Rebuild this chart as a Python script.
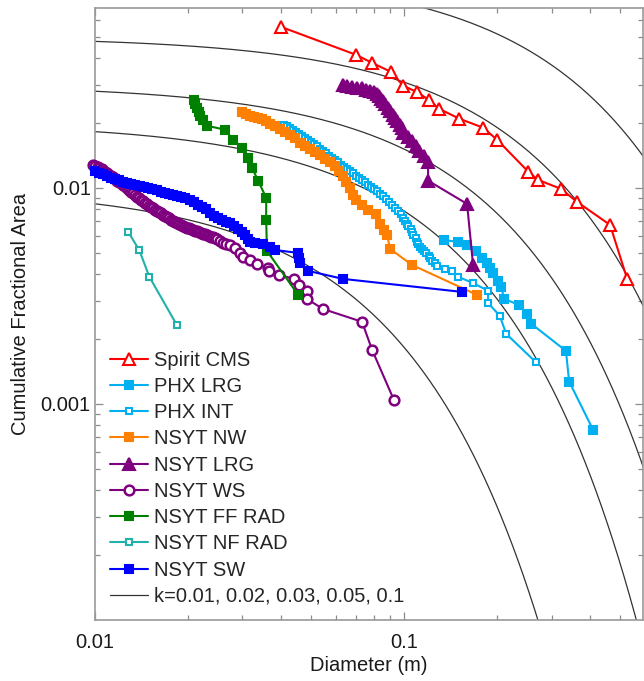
import numpy as np, pandas as pd, matplotlib
matplotlib.use('Agg')
import matplotlib.pyplot as plt, seaborn as sns
from matplotlib.ticker import LogLocator, NullFormatter

# Diameter (m) and cumulative fractional area for each rock-count series
spirit_x = [0.04,0.0699,0.0788,0.0908,0.0993,0.11,0.12,0.13,0.151,0.18,0.2,0.252,0.271,0.322,0.363,0.464,0.527]
spirit_y = [0.0556,0.0413,0.0379,0.0344,0.0297,0.0278,0.0256,0.0232,0.0209,0.019,0.0167,0.0119,0.0109,0.00989,0.00861,0.00674,0.00379]
phx_lrg_x = [0.1347,0.1496,0.160,0.171,0.179,0.186,0.190,0.194,0.201,0.206,0.211,0.236,0.250,0.258,0.334,0.342,0.409]
phx_lrg_y = [0.00574,0.00562,0.00545,0.00511,0.00474,0.0045,0.00426,0.00404,0.00371,0.00348,0.00306,0.00287,0.00261,0.00235,0.00176,0.00127,0.000758]
int_x = [0.0409,0.0418,0.0428,0.0437,0.0447,0.0457,0.0468,0.0478,0.0489,0.0500,0.0511,0.0523,0.0535,0.0547,0.0559,0.0572,0.0585,0.0598,0.0612,0.0625,0.0639,0.0654,0.0669,0.0684,0.0699,0.0715,0.0731,0.0748,0.0765,0.0782,0.0800,0.0818,0.0836,0.0855,0.0874,0.0894,0.0914,0.0935,0.0956,0.0974,0.0993,0.101,0.102,0.103,0.105,0.106,0.107,0.109,0.110,0.111,0.113,0.114,0.116,0.118,0.120,0.121,0.123,0.126,0.128,0.136,0.143,0.150,0.167,0.187,0.187,0.204,0.214,0.267]
int_y = [0.0196,0.0193,0.0190,0.0186,0.0182,0.0178,0.0174,0.0170,0.0167,0.0163,0.0160,0.0156,0.0152,0.0148,0.0145,0.0141,0.0138,0.0135,0.0132,0.0128,0.0125,0.0122,0.0120,0.0117,0.0114,0.0111,0.0109,0.0106,0.0103,0.0101,0.00989,0.00963,0.00938,0.00913,0.00889,0.00861,0.00834,0.00808,0.00783,0.00754,0.00726,0.00703,0.00681,0.00663,0.00646,0.00626,0.00606,0.00584,0.00562,0.00548,0.00533,0.00522,0.00511,0.00497,0.00484,0.00472,0.00459,0.00447,0.00435,0.00422,0.00413,0.00387,0.00363,0.00334,0.00293,0.00256,0.00211,0.00156]
nw_x = [0.0299,0.0308,0.0317,0.0327,0.0337,0.0347,0.0358,0.0368,0.0382,0.0397,0.0412,0.0428,0.0444,0.0461,0.0478,0.0496,0.0515,0.0535,0.0555,0.0576,0.0598,0.0616,0.0635,0.0649,0.0669,0.0684,0.0699,0.0731,0.0765,0.0812,0.0836,0.0862,0.0881,0.0901,0.106,0.172]
nw_y = [0.0225,0.0220,0.0215,0.0213,0.0211,0.0209,0.0204,0.0198,0.0194,0.0188,0.0182,0.0176,0.0170,0.0162,0.0156,0.0152,0.0147,0.0142,0.0136,0.0132,0.0126,0.0120,0.0114,0.0107,0.0100,0.00928,0.0088,0.00834,0.00791,0.00758,0.00681,0.00639,0.00606,0.00522,0.0044,0.0032]
nsyt_lrg_x = [0.0635,0.0654,0.0679,0.0704,0.0731,0.0753,0.0776,0.0800,0.0818,0.0830,0.0843,0.0855,0.0868,0.0888,0.0901,0.0921,0.0935,0.0949,0.0971,0.0985,0.0993,0.1030,0.1061,0.1094,0.1118,0.1161,0.1196,0.1196,0.1599,0.1672]
nsyt_lrg_y = [0.0300,0.0297,0.0293,0.0290,0.0290,0.0284,0.0281,0.0278,0.0272,0.0267,0.0258,0.0253,0.0245,0.0235,0.0227,0.0218,0.0211,0.0204,0.0196,0.0190,0.0180,0.0172,0.0165,0.0157,0.0148,0.0141,0.0132,0.0108,0.00843,0.00440]
ws_x = [0.00985,0.0100,0.0102,0.0103,0.0105,0.0106,0.0108,0.0109,0.0111,0.0113,0.0114,0.0116,0.0118,0.0120,0.0121,0.0123,0.0125,0.0127,0.0129,0.0131,0.0133,0.0135,0.0137,0.0139,0.0141,0.0143,0.0145,0.0147,0.0150,0.0152,0.0154,0.0156,0.0159,0.0161,0.0164,0.0166,0.0168,0.0171,0.0174,0.0176,0.0179,0.0182,0.0184,0.0187,0.0190,0.0193,0.0196,0.0198,0.0201,0.0204,0.0208,0.0211,0.0214,0.0217,0.0220,0.0224,0.0227,0.0230,0.0234,0.0237,0.0241,0.0245,0.0248,0.0254,0.0260,0.0265,0.0273,0.0284,0.0295,0.0301,0.0317,0.0334,0.0363,0.0366,0.0394,0.0441,0.0457,0.0485,0.0485,0.0547,0.0731,0.0788,0.0928]
ws_y = [0.0128,0.0126,0.0125,0.0123,0.0122,0.0120,0.0119,0.0117,0.0115,0.0114,0.0112,0.0110,0.0108,0.0107,0.0105,0.0103,0.0102,0.00997,0.00979,0.0096,0.00943,0.00925,0.00909,0.00894,0.0088,0.00866,0.00852,0.00839,0.00825,0.00814,0.00804,0.00793,0.00783,0.00772,0.00762,0.00751,0.00742,0.00732,0.00722,0.00712,0.00703,0.00694,0.00685,0.00678,0.0067,0.00665,0.0066,0.00654,0.00649,0.00644,0.00639,0.00634,0.00629,0.00624,0.00619,0.00614,0.00609,0.00604,0.00599,0.00594,0.0059,0.00585,0.00581,0.00568,0.00556,0.0055,0.00545,0.00527,0.005,0.00479,0.00464,0.00445,0.00426,0.00413,0.00396,0.00379,0.00356,0.00334,0.00306,0.00275,0.0024,0.00178,0.00104]
ff_x = [0.0209,0.0211,0.0214,0.0217,0.0219,0.0224,0.0230,0.0263,0.0280,0.0299,0.0313,0.0322,0.0337,0.0358,0.0358,0.0360,0.0454]
ff_y = [0.0256,0.0245,0.0235,0.0225,0.0215,0.0206,0.0194,0.0186,0.0167,0.0153,0.0138,0.0124,0.0108,0.0090,0.00711,0.00511,0.0032]
nf_x = [0.0128,0.0139,0.015,0.0184]
nf_y = [0.00626,0.00516,0.00387,0.00232]
sw_x = [0.01,0.0103,0.0106,0.0109,0.0113,0.0116,0.012,0.0123,0.0127,0.0131,0.0135,0.014,0.0144,0.0148,0.0153,0.0159,0.0164,0.0168,0.0174,0.0179,0.0184,0.019,0.0196,0.0203,0.0209,0.0215,0.0222,0.0229,0.0236,0.0243,0.025,0.0258,0.0265,0.0273,0.0282,0.029,0.0299,0.0306,0.0313,0.0317,0.0329,0.035,0.0368,0.0382,0.0454,0.0457,0.0461,0.0489,0.0635,0.154]
sw_y = [0.012,0.0117,0.0116,0.0114,0.0111,0.011,0.0109,0.0107,0.0105,0.0104,0.0103,0.0102,0.0101,0.01,0.00989,0.00979,0.00958,0.00948,0.00938,0.00928,0.00918,0.00909,0.00899,0.0088,0.00861,0.00834,0.00817,0.00799,0.00766,0.00742,0.00726,0.00711,0.00696,0.00689,0.00667,0.00646,0.00626,0.00606,0.00581,0.00562,0.00556,0.0055,0.00533,0.00516,0.005,0.00474,0.0045,0.00413,0.00379,0.0033]

# Golombek-Rapp model rock abundances
k_values = [0.01,0.02,0.03,0.05,0.1]
k_label = 'k=0.01, 0.02, 0.03, 0.05, 0.1'

series = [
 ('Spirit CMS', spirit_x, spirit_y, '#FF0000','^',8,False,1.5),
 ('PHX LRG', phx_lrg_x, phx_lrg_y, '#00B0F0','s',5.5,True,1.5),
 ('PHX INT', int_x, int_y, '#00B0F0','s',5,False,1.5),
 ('NSYT NW', nw_x, nw_y, '#FF8000','s',5.5,True,1.5),
 ('NSYT LRG', nsyt_lrg_x, nsyt_lrg_y, '#7F007F','^',8,True,1.5),
 ('NSYT WS', ws_x, ws_y, '#7F007F','o',7,False,1.8),
 ('NSYT FF RAD', ff_x, ff_y, '#008000','s',5.5,True,1.5),
 ('NSYT NF RAD', nf_x, nf_y, '#20B2AA','s',5,False,1.5),
 ('NSYT SW', sw_x, sw_y, '#0000FF','s',5.5,True,1.5),
]

sns.set_theme(style='ticks')
plt.rcParams['font.family'] = ['Liberation Sans', 'DejaVu Sans']
FS = 14.5

fig = plt.figure(figsize=(6.44,6.81), dpi=100)
ax = fig.add_axes([95/644, 1-620/681, 548/644, 612/681])
for name,x,y,c,m,ms,filled,mew in series:
    sns.lineplot(x=x,y=y,ax=ax,color=c,marker=m,markersize=ms,markeredgecolor=c,
                 markerfacecolor=c if filled else 'white',markeredgewidth=mew,linewidth=1.5,
                 sort=False,estimator=None,errorbar=None,label=name,zorder=3,clip_on=False,legend=False)
D = np.logspace(-2, np.log10(0.6), 400)
for i,k in enumerate(k_values):
    q = 1.79 + 0.152/k
    sns.lineplot(x=D, y=k*np.exp(-q*D), ax=ax, color='#333333', lw=0.9, zorder=1,
                 sort=False, estimator=None, errorbar=None,
                 label=k_label if i==0 else '_nolegend_', legend=False)
ax.set_xscale('log'); ax.set_yscale('log')
ax.set_xlim(0.01,0.593); ax.set_ylim(1e-4,0.068)
ax.set_xticks([0.01,0.1],['0.01','0.1'])
ax.set_yticks([0.001,0.01],['0.001','0.01'])
for a in (ax.xaxis, ax.yaxis):
    a.set_minor_locator(LogLocator(base=10, subs=np.arange(2,10)))
    a.set_minor_formatter(NullFormatter())
ax.tick_params(which='both', direction='in', top=True, right=True, color='#8c8c8c', width=0.9, labelsize=FS, labelcolor='#1a1a1a')
ax.tick_params(which='major', length=6)
ax.tick_params(which='minor', length=3.5)
ax.tick_params(axis='x', which='major', pad=9)
ax.tick_params(axis='y', which='major', pad=3)
for s in ax.spines.values():
    s.set_color('#9a9a9a'); s.set_linewidth(1.2)
ax.set_xlabel('Diameter (m)', fontsize=FS, color='#1a1a1a', labelpad=3)
ax.set_ylabel('Cumulative Fractional Area', fontsize=FS, color='#1a1a1a', labelpad=8)
h,l = ax.get_legend_handles_labels()
ax.legend(h,l,loc='lower left', bbox_to_anchor=(0.027,0.023), frameon=False, fontsize=FS,
          handlelength=1.9, handletextpad=0.3, labelspacing=0.36, borderpad=0, borderaxespad=0)
plt.savefig('out.png', dpi=100)
